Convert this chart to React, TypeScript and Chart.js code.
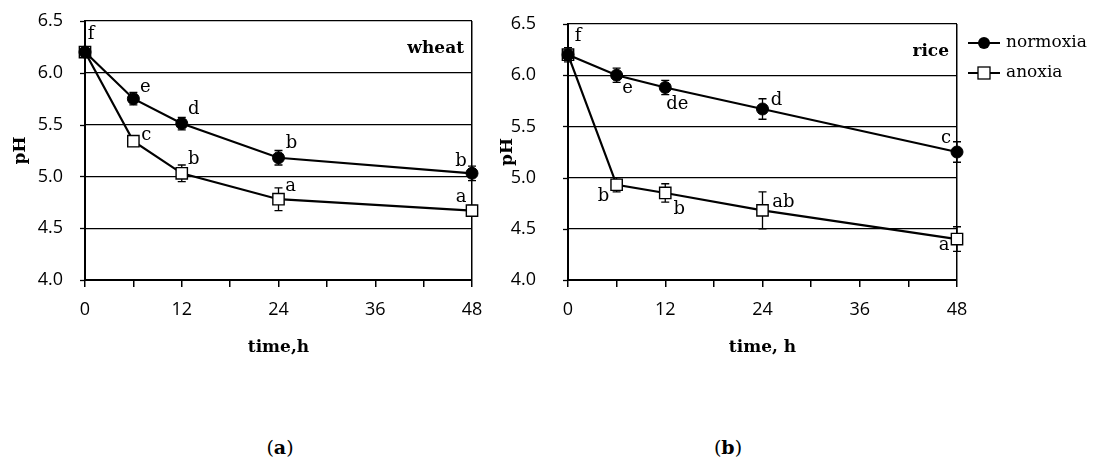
import React, { useEffect, useRef } from 'react';
import { Chart, registerables } from 'chart.js';

Chart.register(...registerables);

// ---------- data ----------
const times = [0, 6, 12, 24, 48];
const xTickLabels = ['0', '12', '24', '36', '48'];
const seriesNames = ['normoxia', 'anoxia'];
const panelNames = ['wheat', 'rice'];
const xTitles = ['time,h', 'time, h'];
const yTitle = 'pH';
const panelTags = ['a', 'b'];

const wheatNormoxia = [6.2, 5.75, 5.51, 5.18, 5.03];
const wheatNormoxiaErr = [0.04, 0.06, 0.06, 0.07, 0.07];
const wheatNormoxiaLetters = ['f', 'e', 'd', 'b', 'b'];
const wheatAnoxia = [6.2, 5.34, 5.03, 4.78, 4.67];
const wheatAnoxiaErr = [0.04, 0.05, 0.08, 0.11, 0.05];
const wheatAnoxiaLetters = ['', 'c', 'b', 'a', 'a'];

const riceNormoxia = [6.2, 6.0, 5.88, 5.67, 5.25];
const riceNormoxiaErr = [0.07, 0.07, 0.07, 0.1, 0.1];
const riceNormoxiaLetters = ['f', 'e', 'de', 'd', 'c'];
const riceAnoxia = [6.2, 4.93, 4.85, 4.68, 4.4];
const riceAnoxiaErr = [0.05, 0.07, 0.09, 0.18, 0.12];
const riceAnoxiaLetters = ['', 'b', 'b', 'ab', 'a'];

// ---------- layout / style (not data) ----------
const wheatNormoxiaOffsets = [[6, -18], [12, -11], [12, -14], [13, -14], [-11, -12]];
const wheatAnoxiaOffsets = [[0, 0], [13, -6], [12, -14], [12, -13], [-11, -13]];
const riceNormoxiaOffsets = [[10, -18], [11, 13], [12, 17], [14, -9], [-11, -14]];
const riceAnoxiaOffsets = [[0, 0], [-13, 12], [14, 16], [21, -8], [-13, 6]];

const SERIF = '"DejaVu Serif", serif';
const SANS = '"Open Sans", sans-serif';
const Y_TICK_MARK = 5;

type Panel = {
  name: string;
  xTitle: string;
  normoxia: number[];
  normoxiaErr: number[];
  normoxiaLetters: string[];
  normoxiaOffsets: number[][];
  anoxia: number[];
  anoxiaErr: number[];
  anoxiaLetters: string[];
  anoxiaOffsets: number[][];
  canvasLeft: number;
  canvasWidth: number;
  yAxisWidth: number;
  plotTop: number;
  padRight: number;
  yLabelGap: number;
  yTitlePad: number;
  showLegend: boolean;
  legendX: number;
};

const panels: Panel[] = [
  {
    name: panelNames[0],
    xTitle: xTitles[0],
    normoxia: wheatNormoxia,
    normoxiaErr: wheatNormoxiaErr,
    normoxiaLetters: wheatNormoxiaLetters,
    normoxiaOffsets: wheatNormoxiaOffsets,
    anoxia: wheatAnoxia,
    anoxiaErr: wheatAnoxiaErr,
    anoxiaLetters: wheatAnoxiaLetters,
    anoxiaOffsets: wheatAnoxiaOffsets,
    canvasLeft: 0,
    canvasWidth: 500,
    yAxisWidth: 85,
    plotTop: 21,
    padRight: 28,
    yLabelGap: 20,
    yTitlePad: 10,
    showLegend: false,
    legendX: 0,
  },
  {
    name: panelNames[1],
    xTitle: xTitles[1],
    normoxia: riceNormoxia,
    normoxiaErr: riceNormoxiaErr,
    normoxiaLetters: riceNormoxiaLetters,
    normoxiaOffsets: riceNormoxiaOffsets,
    anoxia: riceAnoxia,
    anoxiaErr: riceAnoxiaErr,
    anoxiaLetters: riceAnoxiaLetters,
    anoxiaOffsets: riceAnoxiaOffsets,
    canvasLeft: 490,
    canvasWidth: 609,
    yAxisWidth: 78,
    plotTop: 24,
    padRight: 142,
    yLabelGap: 30,
    yTitlePad: 7,
    showLegend: true,
    legendX: 478,
  },
];

const CANVAS_H = 370;

function makePlugins(p: Panel) {
  const errs = [p.normoxiaErr, p.anoxiaErr];
  const letters = [p.normoxiaLetters, p.anoxiaLetters];
  const offsets = [p.normoxiaOffsets, p.anoxiaOffsets];
  return [
    {
      id: 'yTickMarks',
      afterDraw(chart: any) {
        const ctx = chart.ctx;
        const ys = chart.scales.y;
        const left = chart.chartArea.left;
        ctx.save();
        ctx.strokeStyle = '#000';
        ctx.lineWidth = 1.3;
        ys.ticks.forEach((t: any) => {
          const y = Math.round(ys.getPixelForValue(t.value)) + 0.5;
          ctx.beginPath();
          ctx.moveTo(left - Y_TICK_MARK, y);
          ctx.lineTo(left, y);
          ctx.stroke();
        });
        ctx.restore();
      },
    },
    {
      id: 'errorBars',
      beforeDatasetsDraw(chart: any) {
        const ctx = chart.ctx;
        const ys = chart.scales.y;
        ctx.save();
        ctx.strokeStyle = '#000';
        ctx.lineWidth = 1.3;
        chart.data.datasets.forEach((ds: any, di: number) => {
          const meta = chart.getDatasetMeta(di);
          meta.data.forEach((pt: any, i: number) => {
            const v = ds.data[i].y;
            const e = errs[di][i];
            const y1 = ys.getPixelForValue(v + e);
            const y2 = ys.getPixelForValue(v - e);
            const x = pt.x;
            ctx.beginPath();
            ctx.moveTo(x, y1);
            ctx.lineTo(x, y2);
            ctx.moveTo(x - 4, y1);
            ctx.lineTo(x + 4, y1);
            ctx.moveTo(x - 4, y2);
            ctx.lineTo(x + 4, y2);
            ctx.stroke();
          });
        });
        ctx.restore();
      },
    },
    {
      id: 'lettersAndName',
      afterDatasetsDraw(chart: any) {
        const ctx = chart.ctx;
        ctx.save();
        ctx.fillStyle = '#000';
        ctx.font = `18px ${SERIF}`;
        ctx.textAlign = 'center';
        ctx.textBaseline = 'middle';
        chart.data.datasets.forEach((_ds: any, di: number) => {
          const meta = chart.getDatasetMeta(di);
          meta.data.forEach((pt: any, i: number) => {
            const t = letters[di][i];
            if (!t) return;
            const [dx, dy] = offsets[di][i];
            ctx.fillText(t, pt.x + dx, pt.y + dy);
          });
        });
        const ca = chart.chartArea;
        ctx.font = `bold 17px ${SERIF}`;
        ctx.textAlign = 'right';
        ctx.fillText(p.name, ca.right - 8, ca.top + 28);

        if (p.showLegend) {
          const lx = p.legendX;
          const rows = [43, 73];
          chart.data.datasets.forEach((ds: any, di: number) => {
            const y = rows[di];
            ctx.strokeStyle = '#000';
            ctx.lineWidth = 2;
            ctx.beginPath();
            ctx.moveTo(lx, y);
            ctx.lineTo(lx + 32, y);
            ctx.stroke();
            const cx = lx + 16;
            if (di === 0) {
              ctx.beginPath();
              ctx.arc(cx, y, 6, 0, Math.PI * 2);
              ctx.fillStyle = '#000';
              ctx.fill();
            } else {
              ctx.fillStyle = '#fff';
              ctx.fillRect(cx - 6, y - 6, 12, 12);
              ctx.lineWidth = 1.3;
              ctx.strokeRect(cx - 6, y - 6, 12, 12);
            }
            ctx.fillStyle = '#000';
            ctx.font = `17px ${SERIF}`;
            ctx.textAlign = 'left';
            ctx.textBaseline = 'middle';
            ctx.fillText(ds.label, lx + 38, y);
          });
        }
        ctx.restore();
      },
    },
  ];
}

function makeConfig(p: Panel): any {
  const mk = (vals: number[]) => times.map((t, i) => ({ x: t, y: vals[i] }));
  return {
    type: 'line',
    data: {
      datasets: [
        {
          label: seriesNames[0],
          data: mk(p.normoxia),
          borderColor: '#000',
          borderWidth: 2.2,
          pointStyle: 'circle',
          pointRadius: 6,
          pointBackgroundColor: '#000',
          pointBorderColor: '#000',
          pointBorderWidth: 1,
          clip: false,
        },
        {
          label: seriesNames[1],
          data: mk(p.anoxia),
          borderColor: '#000',
          borderWidth: 2.2,
          pointStyle: 'rect',
          pointRadius: 8,
          pointBackgroundColor: '#fff',
          pointBorderColor: '#000',
          pointBorderWidth: 1.4,
          clip: false,
        },
      ],
    },
    options: {
      animation: false,
      responsive: false,
      devicePixelRatio: 1,
      events: [],
      layout: { padding: { top: p.plotTop, right: p.padRight, left: 0, bottom: 0 } },
      plugins: { legend: { display: false }, tooltip: { enabled: false } },
      scales: {
        x: {
          type: 'linear',
          min: 0,
          max: 48,
          afterFit: (s: any) => {
            s.height = 90;
          },
          ticks: {
            stepSize: 6,
            autoSkip: false,
            maxRotation: 0,
            padding: 12,
            color: '#000',
            font: { family: SANS, size: 18 },
            callback: (v: any) => {
              const idx = xTickLabels.indexOf(String(v));
              return idx >= 0 ? xTickLabels[idx] : '';
            },
          },
          grid: {
            drawOnChartArea: true,
            color: (c: any) => (c.tick && c.tick.value === 48 ? '#000' : 'rgba(0,0,0,0)'),
            tickColor: '#000',
            tickLength: 7,
            lineWidth: 1.5,
          },
          border: { display: true, color: '#000', width: 2 },
          title: {
            display: true,
            text: p.xTitle,
            color: '#000',
            font: { family: SERIF, size: 17, weight: 'bold' },
            padding: { top: 0, bottom: 12 },
          },
        },
        y: {
          type: 'linear',
          min: 4,
          max: 6.5,
          afterFit: (s: any) => {
            s.width = p.yAxisWidth;
          },
          ticks: {
            stepSize: 0.5,
            padding: 2,
            color: '#000',
            font: { family: SANS, size: 18 },
            callback: (v: any) => Number(v).toFixed(1),
          },
          grid: {
            color: '#000',
            tickColor: 'rgba(0,0,0,0)',
            lineWidth: 1.3,
            tickLength: p.yLabelGap,
          },
          border: { display: true, color: '#000', width: 2 },
          title: {
            display: true,
            text: yTitle,
            color: '#000',
            font: { family: SERIF, size: 17, weight: 'bold' },
            padding: { top: p.yTitlePad, bottom: 0 },
          },
        },
      },
    },
    plugins: makePlugins(p),
  };
}

function PanelChart({ p }: { p: Panel }) {
  const ref = useRef<HTMLCanvasElement | null>(null);
  useEffect(() => {
    if (!ref.current) return;
    const chart: any = new Chart(ref.current, makeConfig(p));
    return () => chart.destroy();
  }, [p]);
  return (
    <canvas
      ref={ref}
      width={p.canvasWidth}
      height={CANVAS_H}
      style={{ position: 'absolute', left: p.canvasLeft, top: 0, width: p.canvasWidth, height: CANVAS_H }}
    />
  );
}

const tagStyle = (cx: number): React.CSSProperties => ({
  position: 'absolute',
  left: cx - 30,
  width: 60,
  top: 434,
  textAlign: 'center',
  fontFamily: SERIF,
  fontSize: 19,
  color: '#000',
  lineHeight: '26px',
});

export default function App() {
  return (
    <div style={{ position: 'absolute', left: 0, top: 0, width: 1099, height: 461, background: '#fff', overflow: 'hidden' }}>
      {panels.map((p) => (
        <PanelChart key={p.name} p={p} />
      ))}
      <div style={tagStyle(280)}>
        (<b>{panelTags[0]}</b>)
      </div>
      <div style={tagStyle(728)}>
        (<b>{panelTags[1]}</b>)
      </div>
    </div>
  );
}
